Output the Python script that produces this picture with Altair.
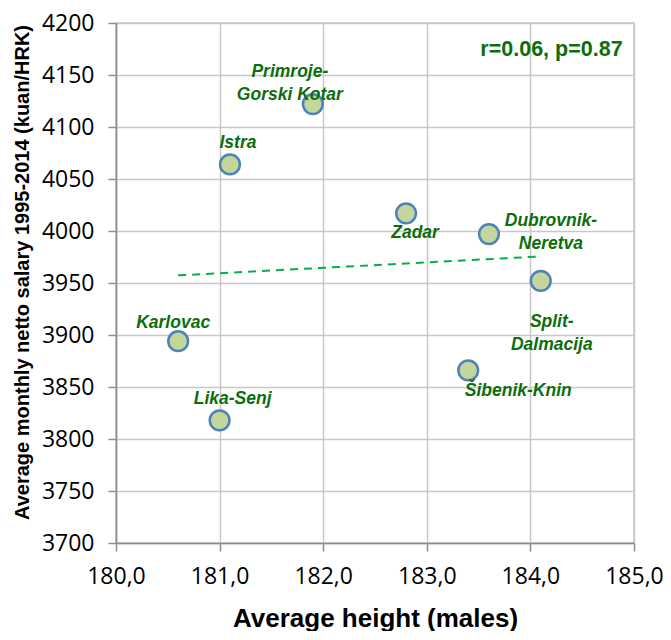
import altair as alt
import pandas as pd

regions = ["Karlovac", "Lika-Senj", "Istra", "Primroje-Gorski Kotar", "Zadar",
           "Dubrovnik-Neretva", "Split-Dalmacija", "Šibenik-Knin"]
avg_height = [180.6, 181.0, 181.1, 181.9, 182.8, 183.6, 184.1, 183.4]
avg_salary = [3894, 3818, 4064, 4122, 4017, 3997, 3952, 3866]
label_text = ["Karlovac", "Lika-Senj", "Istra", "Primroje-\nGorski Kotar", "Zadar",
              "Dubrovnik-\nNeretva", "Split-\nDalmacija", "Šibenik-Knin"]
x_ticks = [180, 181, 182, 183, 184, 185]
y_ticks = list(range(3700, 4201, 50))
stat_text = "r=0.06, p=0.87"

df = pd.DataFrame({"region": regions, "height": avg_height,
                   "salary": avg_salary, "label": label_text})

# label offsets (style): dx, dy
offsets = {
    "Karlovac": (-5, -18),
    "Lika-Senj": (13, -21),
    "Istra": (8, -21),
    "Primroje-Gorski Kotar": (-23, -32),
    "Zadar": (9, 20),
    "Dubrovnik-Neretva": (62, -13),
    "Split-Dalmacija": (11, 41),
    "Šibenik-Knin": (50, 21),
}

BOLDF = "Liberation Sans, Arial, sans-serif"
GREEN = "#0b6e0b"

xscale = alt.Scale(domain=[180, 185], nice=False)
yscale = alt.Scale(domain=[3700, 4200], nice=False)

x_enc = alt.X("height:Q", scale=xscale, axis=alt.Axis(
    values=x_ticks, title="Average height (males)",
    labelExpr="replace(format(datum.value, '.1f'), '.', ',')",
    labelFlush=False, labelAlign="center", labelOverlap=False,
    titleY=75, titleBaseline="middle"))
y_enc = alt.Y("salary:Q", scale=yscale, axis=alt.Axis(
    values=y_ticks, title="Average monthly netto salary 1995-2014 (kuan/HRK)",
    format="d", labelFlush=False, labelOverlap=False,
    titleX=-94, titleY=249, titleAngle=-90, titleAlign="center",
    titleBaseline="middle"))

base = alt.Chart(df)

trend = base.transform_regression("height", "salary").mark_line(
    color="#00b050", strokeDash=[8, 6], strokeWidth=2
).encode(x=x_enc, y=y_enc)

points = base.mark_point(
    shape="circle", filled=True, size=390, fill="#c4d79b", fillOpacity=1,
    stroke="#4f81bd", strokeWidth=2.5, opacity=1
).encode(x=x_enc, y=y_enc)

label_layers = []
for r in regions:
    dx, dy = offsets[r]
    label_layers.append(
        base.transform_filter(alt.datum.region == r).mark_text(
            font=BOLDF, fontSize=17.5, fontWeight="bold", fontStyle="italic",
            color=GREEN, dx=dx, dy=dy, align="center", baseline="middle",
            lineBreak="\n", lineHeight=23
        ).encode(x=x_enc, y=y_enc, text="label:N")
    )

stat = alt.Chart(pd.DataFrame({"t": [stat_text], "x": [184.89], "y": [4174]})).mark_text(
    font=BOLDF, fontSize=21.5, fontWeight="bold", color=GREEN,
    align="right", baseline="middle"
).encode(x=alt.X("x:Q", scale=xscale), y=alt.Y("y:Q", scale=yscale), text="t:N")

chart = alt.layer(trend, points, *label_layers, stat).properties(
    width=518, height=520,
    autosize=alt.AutoSizeParams(type="none"),
    padding={"left": 108, "top": 15, "right": 29, "bottom": 88},
).configure_view(stroke="#c8c8c8", strokeWidth=1.5).configure_axis(
    grid=True, gridColor="#c8c8c8", gridWidth=1.5,
    domainColor="#8c8c8c", domainWidth=1.5,
    tickColor="#8c8c8c", tickSize=8, tickWidth=1.5,
    labelFont="Open Sans", labelFontSize=23, labelColor="#000000",
    labelPadding=14,
    titleFont=BOLDF, titleFontSize=26, titleFontWeight="bold", titleColor="#000000",
).configure_axisY(titleFontSize=20)

chart.save("out.html", embed_options={"renderer": "svg", "actions": False})
